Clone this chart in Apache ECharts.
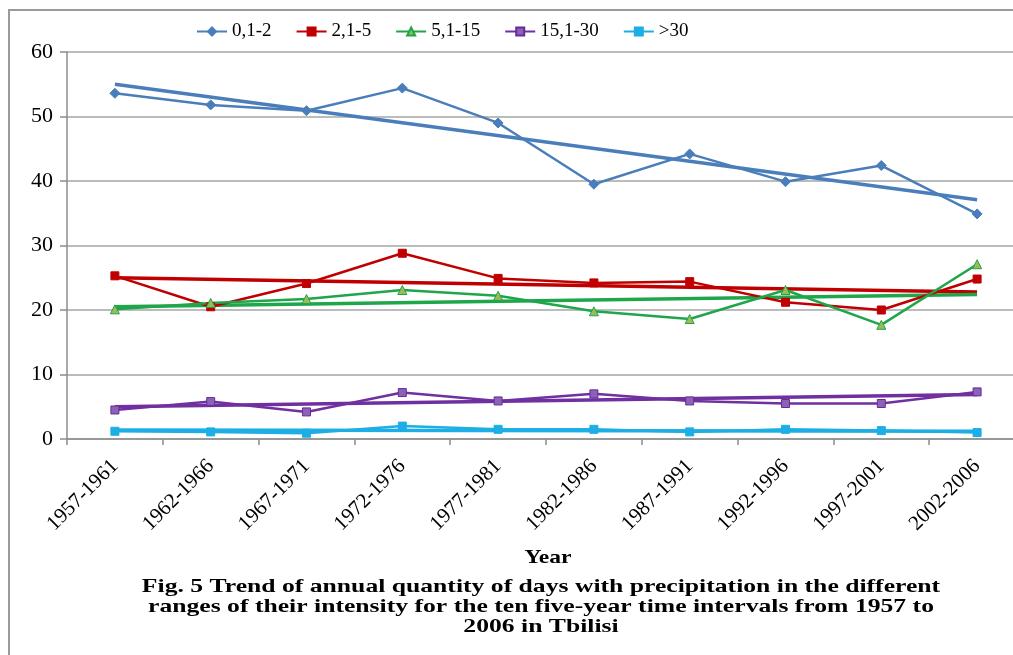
<!DOCTYPE html>
<html>
<head>
<meta charset="utf-8">
<title>Precipitation days by intensity range, Tbilisi 1957-2006</title>
<script src="https://cdn.jsdelivr.net/npm/echarts@6/dist/echarts.min.js"></script>
<style>
  html, body { margin: 0; padding: 0; background: #ffffff; overflow: hidden; }
  /* the plot area runs a little past the right edge of the page */
  #chart { width: 1030px; height: 655px; }
</style>
</head>
<body>
<div id="chart"></div>
<script>
// Five-year intervals
const periods = ['1957-1961', '1962-1966', '1967-1971', '1972-1976', '1977-1981',
                 '1982-1986', '1987-1991', '1992-1996', '1997-2001', '2002-2006'];

// Mean annual number of days with precipitation, by intensity range (mm)
const range0_2    = [53.6, 51.8, 50.9, 54.4, 49.0, 39.5, 44.2, 39.9, 42.4, 34.9];
const range2_5    = [25.3, 20.5, 24.1, 28.8, 24.9, 24.2, 24.4, 21.2, 20.0, 24.8];
const range5_15   = [20.1, 21.1, 21.7, 23.1, 22.2, 19.8, 18.6, 23.1, 17.7, 27.1];
const range15_30  = [4.5, 5.8, 4.2, 7.2, 5.9, 7.0, 5.9, 5.5, 5.5, 7.3];
const rangeOver30 = [1.2, 1.1, 0.9, 2.0, 1.5, 1.5, 1.1, 1.5, 1.3, 1.0];

// Linear trend lines: value at the first and at the last interval
const trend0_2    = [55.0, 37.1];
const trend2_5    = [25.0, 22.8];
const trend5_15   = [20.5, 22.4];
const trend15_30  = [5.0, 6.9];
const trendOver30 = [1.4, 1.2];

const seriesNames = ['0,1-2', '2,1-5', '5,1-15', '15,1-30', '>30'];
const yTicks = { min: 0, max: 60, step: 10 };

const xTitle = 'Year';
const caption = [
  'Fig. 5 Trend of annual quantity of days with precipitation in the different',
  'ranges of their intensity for the ten five-year time intervals from 1957 to',
  '2006 in Tbilisi'
];

const serif = "'Liberation Serif', 'Times New Roman', serif";
const colors = ['#4A7EBB', '#C00000', '#1FA64A', '#7030A0', '#1CAEE4'];

const values = [range0_2, range2_5, range5_15, range15_30, rangeOver30];
const trends = [trend0_2, trend2_5, trend5_15, trend15_30, trendOver30];

const markers = [
  { symbol: 'diamond',  size: 10, fill: colors[0], border: colors[0] },
  { symbol: 'rect',     size: 8,  fill: colors[1], border: colors[1] },
  { symbol: 'triangle', size: 9,  fill: '#9BBB59', border: '#1FA64A' },
  { symbol: 'rect',     size: 8,  fill: '#8A63B5', border: '#6A2A9A' },
  { symbol: 'rect',     size: 8,  fill: colors[4], border: colors[4] }
];

const series = [];
values.forEach((vals, i) => {
  series.push({
    name: seriesNames[i],
    type: 'line',
    data: vals,
    symbol: markers[i].symbol,
    symbolSize: markers[i].size,
    showAllSymbol: true,
    lineStyle: { color: colors[i], width: 2.5 },
    itemStyle: { color: markers[i].fill, borderColor: markers[i].border, borderWidth: 1 },
    emphasis: { disabled: true },
    z: 3
  });
});
trends.forEach((t, i) => {
  series.push({
    name: seriesNames[i] + ' trend',
    type: 'line',
    data: [[periods[0], t[0]], [periods[periods.length - 1], t[1]]],
    symbol: 'none',
    lineStyle: { color: colors[i], width: 3.5 },
    silent: true,
    z: 2
  });
});

const chart = echarts.init(document.getElementById('chart'), null, { renderer: 'canvas' });

chart.setOption({
  backgroundColor: '#ffffff',
  animation: false,
  color: colors,
  legend: {
    data: seriesNames,
    left: 191,
    top: 17,
    itemWidth: 30,
    itemHeight: 10,
    itemGap: 24,
    textStyle: { fontFamily: serif, fontSize: 19, color: '#000' },
    selectedMode: false
  },
  grid: { left: 67, top: 52, width: 958, height: 387, containLabel: false },
  xAxis: {
    type: 'category',
    data: periods,
    boundaryGap: true,
    axisLine: { lineStyle: { color: '#8C8C8C', width: 1.5 } },
    axisTick: { show: true, interval: 0, length: 6, lineStyle: { color: '#8C8C8C', width: 1.5 } },
    axisLabel: {
      interval: 0, rotate: 45, margin: 24,
      fontFamily: serif, fontSize: 21, color: '#000'
    },
    splitLine: { show: false }
  },
  yAxis: {
    type: 'value',
    min: yTicks.min,
    max: yTicks.max,
    interval: yTicks.step,
    axisLine: { show: true, lineStyle: { color: '#8C8C8C', width: 1.5 } },
    axisTick: { show: true, length: 7, lineStyle: { color: '#8C8C8C', width: 1.5 } },
    axisLabel: { margin: 14, fontFamily: serif, fontSize: 22, color: '#000' },
    splitLine: { show: true, lineStyle: { color: '#A6A6A6', width: 1.5 } }
  },
  series: series,
  graphic: [
    {
      type: 'rect',
      shape: { x: 9, y: 10, width: 1100, height: 700 },
      style: { fill: 'none', stroke: '#9A9A9A', lineWidth: 2 },
      silent: true
    },
    {
      type: 'text',
      x: 548,
      y: 558,
      scaleX: 1.24,
      style: {
        text: xTitle,
        x: 0, y: 0,
        textAlign: 'center',
        textVerticalAlign: 'middle',
        fontFamily: serif,
        fontSize: 19,
        fontWeight: 'bold',
        fill: '#000'
      },
      silent: true
    },
    {
      type: 'text',
      x: 541,
      y: 577,
      scaleX: 1.35,
      style: {
        text: caption.join('\n'),
        x: 0, y: 0,
        textAlign: 'center',
        textVerticalAlign: 'top',
        fontFamily: serif,
        fontSize: 19,
        fontWeight: 'bold',
        lineHeight: 20,
        fill: '#000'
      },
      silent: true
    }
  ]
});
</script>
</body>
</html>
